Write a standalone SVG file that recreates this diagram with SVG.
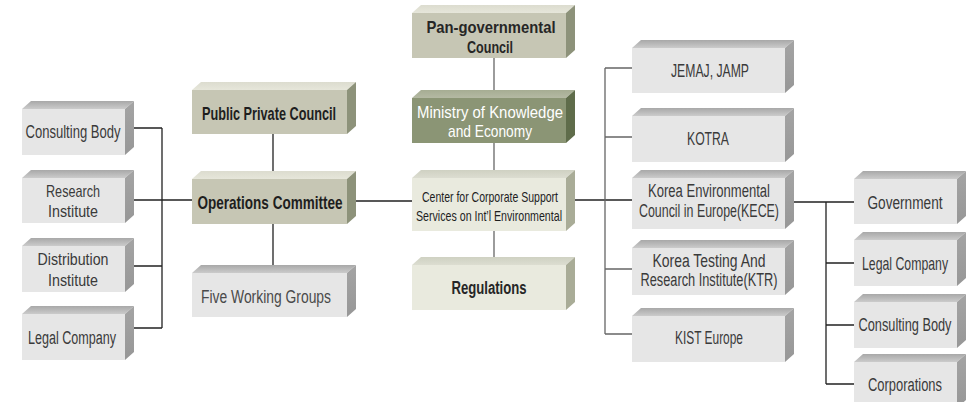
<svg xmlns="http://www.w3.org/2000/svg" width="977" height="402" viewBox="0 0 977 402">
<defs>
<linearGradient id="gTopG" x1="0" y1="0" x2="0" y2="1"><stop offset="0" stop-color="#a8a8a8"/><stop offset="1" stop-color="#cbcbcb"/></linearGradient>
<linearGradient id="gSideG" x1="0" y1="0" x2="0" y2="1"><stop offset="0" stop-color="#a4a4a4"/><stop offset="1" stop-color="#979797"/></linearGradient>
<linearGradient id="gTopO" x1="0" y1="0" x2="0" y2="1"><stop offset="0" stop-color="#dcdccf"/><stop offset="1" stop-color="#e6e6da"/></linearGradient>
<linearGradient id="gTopM" x1="0" y1="0" x2="0" y2="1"><stop offset="0" stop-color="#a6ad93"/><stop offset="1" stop-color="#b4b9a3"/></linearGradient>
<linearGradient id="gTopC" x1="0" y1="0" x2="0" y2="1"><stop offset="0" stop-color="#cfd1c2"/><stop offset="1" stop-color="#dcddd1"/></linearGradient>
</defs>
<style>
.f-g{fill:#e6e6e6}.t-g{fill:url(#gTopG)}.s-g{fill:url(#gSideG)}
.f-o{fill:#c6c6b4}.t-o{fill:url(#gTopO)}.s-o{fill:#8d927a}
.f-m{fill:#8b9575}.t-m{fill:url(#gTopM)}.s-m{fill:#5f6c4a}
.f-c{fill:#e9eade}.t-c{fill:url(#gTopC)}.s-c{fill:#a9ac97}
text{font-family:"Liberation Sans",Arial,sans-serif;text-anchor:middle;dominant-baseline:central}
.tg{font-size:18px;fill:#3a3a3a}
.tg2{font-size:17px;fill:#3a3a3a}
.tb{font-size:19px;font-weight:bold;fill:#1e1e1e}
.tp{font-size:17px;font-weight:bold;fill:#262626}
.tw{font-size:17px;fill:#ffffff}
.tc{font-size:15px;fill:#1e1e1e}
.con{stroke:#222;stroke-width:1.3;fill:none}
.con2{stroke:#666;stroke-width:1.3;fill:none}
</style>
<g id="connectors">
<path class="con" d="M134 128H162M134 200H192M134 266H162M134 328H162M162 128V328"/>
<path class="con" d="M273 134V273M347 201H412"/>
<path class="con2" d="M494 58V265"/>
<path class="con" d="M566 200H632"/>
<path class="con2" d="M605 68V334M605 68H632M605 137H632M605 269H632M605 334H632"/>
<path class="con" d="M785 202H854M826 202V384M826 263H854M826 325H854M826 384H854"/>
</g>
<g id="n-consulting-left">
<polygon class="t-g" points="22,109 31,101 134,101 125,109"/><polygon class="s-g" points="125,109 134,101 134,147 125,155"/><rect class="f-g" x="22" y="109" width="103" height="46"/>
<text class="tg" x="73" y="132" textLength="95" lengthAdjust="spacingAndGlyphs">Consulting Body</text>
</g>
<g id="n-research">
<polygon class="t-g" points="22,178 31,170 134,170 125,178"/><polygon class="s-g" points="125,178 134,170 134,215 125,223"/><rect class="f-g" x="22" y="178" width="103" height="45"/>
<text class="tg2" x="73" y="191" textLength="54" lengthAdjust="spacingAndGlyphs">Research</text>
<text class="tg2" x="73" y="211" textLength="50" lengthAdjust="spacingAndGlyphs">Institute</text>
</g>
<g id="n-distribution">
<polygon class="t-g" points="22,246 31,238 134,238 125,246"/><polygon class="s-g" points="125,246 134,238 134,284 125,292"/><rect class="f-g" x="22" y="246" width="103" height="46"/>
<text class="tg2" x="73" y="259" textLength="71" lengthAdjust="spacingAndGlyphs">Distribution</text>
<text class="tg2" x="73" y="280" textLength="50" lengthAdjust="spacingAndGlyphs">Institute</text>
</g>
<g id="n-legal-left">
<polygon class="t-g" points="22,314 31,306 134,306 125,314"/><polygon class="s-g" points="125,314 134,306 134,352 125,360"/><rect class="f-g" x="22" y="314" width="103" height="46"/>
<text class="tg" x="72" y="338" textLength="88" lengthAdjust="spacingAndGlyphs">Legal Company</text>
</g>
<g id="n-public">
<polygon class="t-o" points="192,90 201,82 356,82 347,90"/><polygon class="s-o" points="347,90 356,82 356,126 347,134"/><rect class="f-o" x="192" y="90" width="155" height="44"/>
<text class="tb" x="269" y="113" textLength="134" lengthAdjust="spacingAndGlyphs">Public Private Council</text>
</g>
<g id="n-operations">
<polygon class="t-o" points="192,179 201,171 356,171 347,179"/><polygon class="s-o" points="347,179 356,171 356,216 347,224"/><rect class="f-o" x="192" y="179" width="155" height="45"/>
<text class="tb" x="270" y="202" textLength="145" lengthAdjust="spacingAndGlyphs">Operations Committee</text>
</g>
<g id="n-five">
<polygon class="t-g" points="192,273 201,265 356,265 347,273"/><polygon class="s-g" points="347,273 356,265 356,309 347,317"/><rect class="f-g" x="192" y="273" width="155" height="44"/>
<text class="tg" x="266" y="297" textLength="130" lengthAdjust="spacingAndGlyphs" style="fill:#4a4a4a">Five Working Groups</text>
</g>
<g id="n-pan">
<polygon class="t-o" points="412,13 421,5 575,5 566,13"/><polygon class="s-o" points="566,13 575,5 575,50 566,58"/><rect class="f-o" x="412" y="13" width="154" height="45"/>
<text class="tp" x="491" y="27" textLength="129" lengthAdjust="spacingAndGlyphs">Pan-governmental</text>
<text class="tp" x="490" y="47" textLength="46" lengthAdjust="spacingAndGlyphs">Council</text>
</g>
<g id="n-ministry">
<polygon class="t-m" points="412,98 421,90 575,90 566,98"/><polygon class="s-m" points="566,98 575,90 575,135 566,143"/><rect class="f-m" x="412" y="98" width="154" height="45"/>
<text class="tw" x="490" y="112" textLength="146" lengthAdjust="spacingAndGlyphs">Ministry of Knowledge</text>
<text class="tw" x="490" y="131" textLength="84" lengthAdjust="spacingAndGlyphs">and Economy</text>
</g>
<g id="n-center">
<polygon class="t-c" points="412,178 421,170 575,170 566,178"/><polygon class="s-c" points="566,178 575,170 575,223 566,231"/><rect class="f-c" x="412" y="178" width="154" height="53"/>
<text class="tc" x="490" y="196" textLength="136" lengthAdjust="spacingAndGlyphs">Center for Corporate Support</text>
<text class="tc" x="489" y="215" textLength="146" lengthAdjust="spacingAndGlyphs">Services on Int’l Environmental</text>
</g>
<g id="n-regulations">
<polygon class="t-c" points="412,265 421,257 575,257 566,265"/><polygon class="s-c" points="566,265 575,257 575,302 566,310"/><rect class="f-c" x="412" y="265" width="154" height="45"/>
<text class="tp" x="489" y="288" textLength="75" lengthAdjust="spacingAndGlyphs" style="font-size:18px">Regulations</text>
</g>
<g id="n-jemaj">
<polygon class="t-g" points="632,48 641,40 794,40 785,48"/><polygon class="s-g" points="785,48 794,40 794,85 785,93"/><rect class="f-g" x="632" y="48" width="153" height="45"/>
<text class="tg" x="710" y="71" textLength="78" lengthAdjust="spacingAndGlyphs">JEMAJ, JAMP</text>
</g>
<g id="n-kotra">
<polygon class="t-g" points="632,116 641,108 794,108 785,116"/><polygon class="s-g" points="785,116 794,108 794,154 785,162"/><rect class="f-g" x="632" y="116" width="153" height="46"/>
<text class="tg" x="708" y="139" textLength="42" lengthAdjust="spacingAndGlyphs">KOTRA</text>
</g>
<g id="n-kece">
<polygon class="t-g" points="632,178 641,170 794,170 785,178"/><polygon class="s-g" points="785,178 794,170 794,221 785,229"/><rect class="f-g" x="632" y="178" width="153" height="51"/>
<text class="tg" x="709" y="191" textLength="122" lengthAdjust="spacingAndGlyphs">Korea Environmental</text>
<text class="tg" x="709" y="211" textLength="140" lengthAdjust="spacingAndGlyphs">Council in Europe(KECE)</text>
</g>
<g id="n-ktr">
<polygon class="t-g" points="632,248 641,240 794,240 785,248"/><polygon class="s-g" points="785,248 794,240 794,287 785,295"/><rect class="f-g" x="632" y="248" width="153" height="47"/>
<text class="tg" x="709" y="261" textLength="113" lengthAdjust="spacingAndGlyphs">Korea Testing And</text>
<text class="tg" x="709" y="280" textLength="137" lengthAdjust="spacingAndGlyphs">Research Institute(KTR)</text>
</g>
<g id="n-kist">
<polygon class="t-g" points="632,316 641,308 794,308 785,316"/><polygon class="s-g" points="785,316 794,308 794,354 785,362"/><rect class="f-g" x="632" y="316" width="153" height="46"/>
<text class="tg" x="709" y="338" textLength="68" lengthAdjust="spacingAndGlyphs">KIST Europe</text>
</g>
<g id="n-government">
<polygon class="t-g" points="854,179 863,171 966,171 957,179"/><polygon class="s-g" points="957,179 966,171 966,216 957,224"/><rect class="f-g" x="854" y="179" width="103" height="45"/>
<text class="tg" x="905" y="203" textLength="75" lengthAdjust="spacingAndGlyphs">Government</text>
</g>
<g id="n-legal-right">
<polygon class="t-g" points="854,240 863,232 966,232 957,240"/><polygon class="s-g" points="957,240 966,232 966,278 957,286"/><rect class="f-g" x="854" y="240" width="103" height="46"/>
<text class="tg" transform="translate(905,264) scale(0.683,1)" x="0" y="0">Legal Company</text>
</g>
<g id="n-consulting-right">
<polygon class="t-g" points="854,302 863,294 966,294 957,302"/><polygon class="s-g" points="957,302 966,294 966,340 957,348"/><rect class="f-g" x="854" y="302" width="103" height="46"/>
<text class="tg" transform="translate(905,325) scale(0.71,1)" x="0" y="0">Consulting Body</text>
</g>
<g id="n-corporations">
<polygon class="t-g" points="854,362 863,354 966,354 957,362"/><polygon class="s-g" points="957,362 966,354 966,400 957,408"/><rect class="f-g" x="854" y="362" width="103" height="46"/>
<text class="tg" x="905" y="385" textLength="74" lengthAdjust="spacingAndGlyphs">Corporations</text>
</g>
</svg>
